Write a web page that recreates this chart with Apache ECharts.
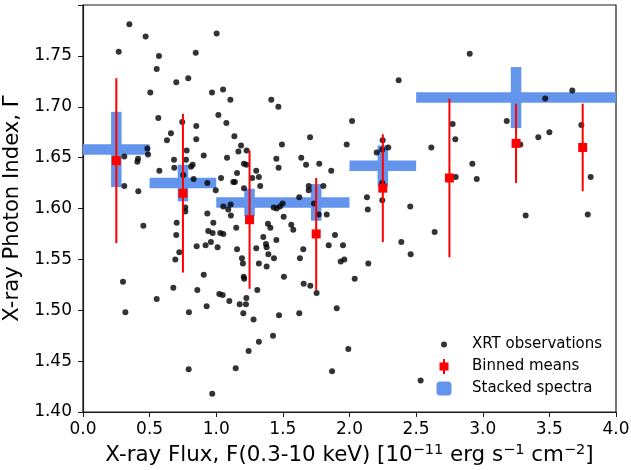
<!DOCTYPE html>
<html>
<head>
<meta charset="utf-8">
<script src="https://cdn.jsdelivr.net/npm/echarts@6/dist/echarts.min.js"></script>
<style>
html,body{margin:0;padding:0;background:#fff;}
#chart{width:631px;height:470px;}
</style>
</head>
<body>
<div id="chart"></div>
<script>
// ---- Data ----
const xrtFlux = [
0.348,0.47,0.268,0.57,1.003,0.846,0.553,0.70,0.79,0.505,0.968,1.051,1.106,0.565,1.016,0.745,0.85,1.076,0.66,0.63,
0.85,1.136,1.186,1.166,1.228,0.483,0.488,0.31,0.413,0.408,0.778,0.773,0.683,0.906,1.081,0.823,0.81,1.208,1.226,0.685,
0.573,1.156,0.753,0.83,1.036,1.30,1.32,1.27,1.128,1.14,0.933,0.31,0.996,0.415,1.208,1.33,1.053,1.108,1.09,0.768,
0.768,1.11,0.453,0.703,0.933,0.978,0.70,0.94,0.973,1.03,1.053,1.15,0.723,0.693,0.853,0.92,0.96,1.01,1.156,1.30,
1.193,1.20,1.32,0.906,1.206,1.21,0.30,0.678,0.858,1.308,1.023,1.048,0.553,1.098,1.226,1.176,1.223,0.928,0.318,0.795,
1.203,1.28,1.32,1.243,0.793,1.146,0.97,
2.369,1.413,1.466,2.019,1.704,1.493,1.979,2.249,2.291,2.246,2.204,1.451,1.638,1.674,1.773,1.468,1.863,1.804,1.694,1.694,
1.623,2.131,2.246,2.246,2.456,2.137,1.498,1.733,1.431,1.453,1.478,
1.769,1.829,1.506,1.388,1.406,1.563,1.578,1.353,1.451,1.373,1.378,1.891,1.844,1.951,1.653,1.391,1.433,1.628,1.378,1.934,
1.961,2.141,2.389,2.459,1.508,1.656,1.706,2.039,1.753,1.904,1.471,1.623,1.426,1.991,1.869,2.534,
2.902,3.672,3.469,2.774,3.18,3.50,3.417,3.74,2.794,2.614,3.282,2.922,2.797,2.955,3.81,2.639,3.322,3.788
];
const xrtIndex = [
1.781,1.769,1.754,1.750,1.772,1.753,1.737,1.724,1.728,1.714,1.714,1.717,1.707,1.689,1.692,1.685,1.681,1.684,1.674,1.667,
1.668,1.671,1.662,1.656,1.657,1.659,1.653,1.651,1.649,1.646,1.657,1.648,1.648,1.652,1.650,1.643,1.641,1.644,1.643,1.640,
1.637,1.635,1.633,1.629,1.630,1.637,1.631,1.630,1.626,1.626,1.625,1.622,1.618,1.617,1.620,1.622,1.602,1.604,1.599,1.601,
1.597,1.593,1.583,1.586,1.595,1.586,1.574,1.578,1.576,1.576,1.575,1.581,1.557,1.550,1.563,1.564,1.567,1.562,1.560,1.561,
1.551,1.546,1.546,1.535,1.533,1.531,1.528,1.522,1.520,1.520,1.516,1.515,1.511,1.509,1.512,1.506,1.506,1.504,1.498,1.498,
1.497,1.491,1.469,1.460,1.442,1.443,1.418,
1.726,1.707,1.700,1.686,1.670,1.663,1.663,1.667,1.660,1.658,1.655,1.649,1.650,1.643,1.644,1.640,1.637,1.622,1.622,1.618,
1.611,1.611,1.625,1.608,1.602,1.599,1.605,1.605,1.601,1.600,1.602,
1.594,1.594,1.592,1.585,1.581,1.584,1.579,1.572,1.569,1.565,1.562,1.574,1.564,1.564,1.560,1.555,1.551,1.551,1.543,1.548,
1.550,1.546,1.567,1.555,1.533,1.526,1.524,1.531,1.517,1.502,1.495,1.497,1.475,1.462,1.440,1.431,
1.752,1.716,1.708,1.683,1.686,1.675,1.670,1.682,1.668,1.660,1.663,1.644,1.631,1.629,1.631,1.577,1.593,1.594
];

const binCenters = [0.25, 0.75, 1.25, 1.75, 2.25, 2.75, 3.25, 3.75];
const binMeans   = [1.647, 1.615, 1.589, 1.575, 1.620, 1.630, 1.664, 1.660];
const binErrors  = [0.081, 0.078, 0.068, 0.055, 0.053, 0.078, 0.039, 0.043];

const stackCenters = [0.25, 0.75, 1.25, 1.75, 2.25, 3.25];
const stackHalfWidths = [0.25, 0.25, 0.25, 0.25, 0.25, 0.75];
const stackIndex = [1.658, 1.625, 1.606, 1.606, 1.642, 1.709];
const stackErrors = [0.037, 0.018, 0.0135, 0.018, 0.02, 0.030];

const xTicks = [0, 0.5, 1.0, 1.5, 2.0, 2.5, 3.0, 3.5, 4.0];
const yTickMin = 1.40, yTickMax = 1.80, yTickStep = 0.05;

// ---- Build ----
const FONT = 'DejaVu Sans';
const BLUE = '#6495ED';
const RED = '#ff0000';

const scatterData = xrtFlux.map((x, i) => [x, xrtIndex[i]]);
const binData = binCenters.map((x, i) => [x, binMeans[i], binErrors[i]]);
const stackData = stackCenters.map((x, i) => [x, stackIndex[i], stackHalfWidths[i], stackErrors[i]]);

const chart = echarts.init(document.getElementById('chart'), null, {renderer: 'canvas'});

const option = {
  animation: false,
  backgroundColor: '#fff',
  grid: {left: 83, right: 15, top: 5, bottom: 58, show: true, borderColor: '#1a1a1a', borderWidth: 1.2,
         backgroundColor: 'transparent', containLabel: false, outerBoundsMode: 'none'},
  xAxis: {
    type: 'value', min: xTicks[0], max: xTicks[xTicks.length - 1], interval: 0.5,
    axisLine: {show: true, lineStyle: {color: '#1a1a1a', width: 1.2}},
    axisTick: {show: true, inside: false, length: 5, lineStyle: {color: '#1a1a1a'}},
    splitLine: {show: false},
    axisLabel: {margin: 9, color: '#000', fontFamily: FONT, fontSize: 17, formatter: v => v.toFixed(1)},
    name: 'X-ray Flux, F(0.3-10 keV) [10{sup|−11} erg s{sup|−1} cm{sup|−2}]',
    nameLocation: 'middle', nameGap: 28,
    nameTextStyle: {color: '#000', fontFamily: FONT, fontSize: 21.4, lineHeight: 26,
      rich: {sup: {fontFamily: FONT, fontSize: 14.5, lineHeight: 14, verticalAlign: 'top', color: '#000'}}}
  },
  yAxis: {
    type: 'value', min: yTickMin, max: yTickMax, interval: yTickStep,
    axisLine: {show: true, lineStyle: {color: '#1a1a1a', width: 1.2}},
    axisTick: {show: true, inside: false, length: 5, lineStyle: {color: '#1a1a1a'}},
    splitLine: {show: false},
    axisLabel: {margin: 11, color: '#000', fontFamily: FONT, fontSize: 17,
      formatter: v => (v > 1.79 ? '' : v.toFixed(2))},
    name: 'X-ray Photon Index, Γ',
    nameLocation: 'middle', nameGap: 48, nameRotate: 90,
    nameTextStyle: {color: '#000', fontFamily: FONT, fontSize: 21.2}
  },
  legend: [
    {data: [{name: 'XRT observations', icon: 'circle'}], left: 441, top: 337, padding: 0,
     itemWidth: 6, itemHeight: 6, selectedMode: false,
     textStyle: {fontFamily: FONT, fontSize: 15, color: '#000', padding: [0, 0, 0, 20]}},
    {data: [{name: 'Binned means', icon: 'path://M3.5,0 L5.5,0 L5.5,3.5 L9,3.5 L9,11.5 L5.5,11.5 L5.5,15 L3.5,15 L3.5,11.5 L0,11.5 L0,3.5 L3.5,3.5 Z'}],
     left: 439.5, top: 359, padding: 0, itemWidth: 9, itemHeight: 15, selectedMode: false,
     textStyle: {fontFamily: FONT, fontSize: 15, color: '#000', padding: [0, 0, 0, 18.5]}},
    {data: [{name: 'Stacked spectra', icon: 'roundRect'}], left: 436.5, top: 381, padding: 0,
     itemWidth: 15, itemHeight: 14, selectedMode: false,
     textStyle: {fontFamily: FONT, fontSize: 15, color: '#000', padding: [0, 0, 0, 15.5]}}
  ],
  series: [
    {
      name: 'Stacked spectra', type: 'custom', z: 1, clip: true,
      itemStyle: {color: BLUE},
      data: stackData,
      renderItem: function (params, api) {
        const x = api.value(0), y = api.value(1), xe = api.value(2), ye = api.value(3);
        const c = api.coord([x, y]);
        const l = api.coord([x - xe, y]);
        const r = api.coord([x + xe, y]);
        const t = api.coord([x, y + ye]);
        const b = api.coord([x, y - ye]);
        const st = {stroke: BLUE, lineWidth: 10.5, lineCap: 'butt'};
        return {type: 'group', children: [
          {type: 'line', shape: {x1: l[0], y1: c[1], x2: r[0], y2: c[1]}, style: st},
          {type: 'line', shape: {x1: c[0], y1: t[1], x2: c[0], y2: b[1]}, style: st}
        ]};
      }
    },
    {
      name: 'XRT observations', type: 'scatter', z: 2,
      symbol: 'circle', symbolSize: 6,
      itemStyle: {color: '#000'},
      data: scatterData
    },
    {
      name: 'Binned means', type: 'custom', z: 3,
      itemStyle: {color: RED},
      data: binData,
      renderItem: function (params, api) {
        const x = api.value(0), y = api.value(1), e = api.value(2);
        const c = api.coord([x, y]);
        const t = api.coord([x, y + e]);
        const b = api.coord([x, y - e]);
        const s = 9;
        return {type: 'group', children: [
          {type: 'line', shape: {x1: c[0], y1: t[1], x2: c[0], y2: b[1]}, style: {stroke: RED, lineWidth: 2}},
          {type: 'rect', shape: {x: c[0] - s / 2, y: c[1] - s / 2, width: s, height: s}, style: {fill: RED}}
        ]};
      }
    }
  ]
};
chart.setOption(option);
</script>
</body>
</html>
